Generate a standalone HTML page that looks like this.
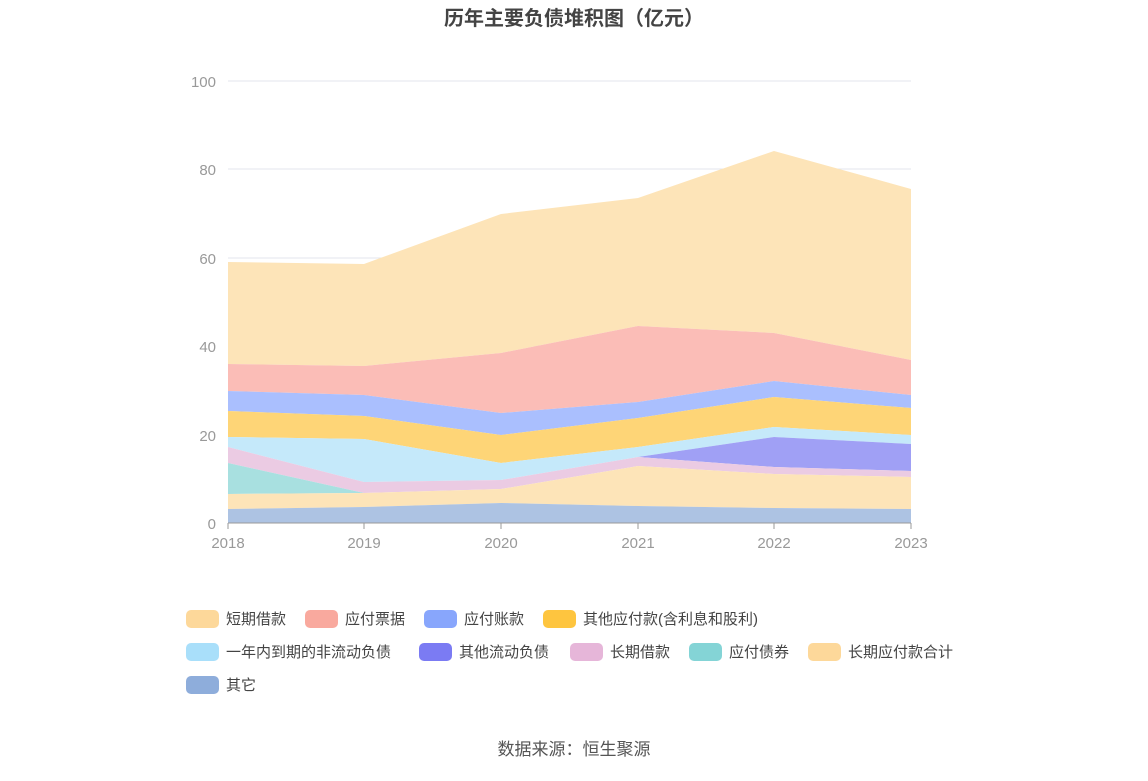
<!DOCTYPE html>
<html><head><meta charset="utf-8"><style>
body{margin:0;background:#fff;width:1148px;height:776px;overflow:hidden;font-family:"Liberation Sans","Noto Sans CJK SC",sans-serif;}
</style></head><body>
<svg width="1148" height="776" xmlns="http://www.w3.org/2000/svg" font-family="Liberation Sans, Noto Sans CJK SC, sans-serif">
<text x="574" y="25" text-anchor="middle" font-size="20" font-weight="bold" fill="#444">历年主要负债堆积图（亿元）</text>
<g stroke="#e3e6ee" stroke-width="1">
<line x1="228" y1="81" x2="911" y2="81"/><line x1="228" y1="169" x2="911" y2="169"/><line x1="228" y1="258" x2="911" y2="258"/><line x1="228" y1="346" x2="911" y2="346"/><line x1="228" y1="435" x2="911" y2="435"/>
</g>
<g font-size="15" fill="#999" text-anchor="end">
<text x="216" y="87">100</text><text x="216" y="175">80</text><text x="216" y="264">60</text><text x="216" y="352">40</text><text x="216" y="441">20</text><text x="216" y="529">0</text>
</g>
<!-- bands -->
<polygon fill="#fde4b8" points="228,262 364,264 501,214 638,198 774,151 911,189 911,360 774,333 638,326 501,353 364,366 228,364"/>
<polygon fill="#fbbdb7" points="228,364 364,366 501,353 638,326 774,333 911,360 911,395 774,381 638,402 501,413 364,395 228,391"/>
<polygon fill="#aabffe" points="228,391 364,395 501,413 638,402 774,381 911,395 911,408 774,397 638,418 501,435 364,416 228,411"/>
<polygon fill="#fed577" points="228,411 364,416 501,435 638,418 774,397 911,408 911,435 774,427 638,447 501,463 364,439 228,437"/>
<polygon fill="#c5e9fa" points="228,437 364,439 501,463 638,447 774,427 911,435 911,444 774,437 638,457 501,480 364,482 228,447"/>
<polygon fill="#a0a0f5" points="228,447 364,482 501,480 638,457 774,437 911,444 911,471 774,467 638,457 501,480 364,482 228,447"/>
<polygon fill="#ebcbe3" points="228,447 364,482 501,480 638,457 774,467 911,471 911,477 774,474 638,466 501,489 364,493 228,463"/>
<polygon fill="#a8e0e0" points="228,463 364,493 501,489 638,466 774,474 911,477 911,477 774,474 638,466 501,489 364,493 228,494"/>
<polygon fill="#fde4b8" points="228,494 364,493 501,489 638,466 774,474 911,477 911,509 774,508 638,506 501,503 364,507 228,509"/>
<polygon fill="#adc3e3" points="228,509 364,507 501,503 638,506 774,508 911,509 911,523 228,523"/>
<line x1="228" y1="523" x2="911" y2="523" stroke="#999"/>
<g stroke="#999"><line x1="228" y1="523" x2="228" y2="529"/><line x1="364" y1="523" x2="364" y2="529"/><line x1="501" y1="523" x2="501" y2="529"/><line x1="638" y1="523" x2="638" y2="529"/><line x1="774" y1="523" x2="774" y2="529"/><line x1="911" y1="523" x2="911" y2="529"/></g>
<g font-size="15" fill="#999" text-anchor="middle">
<text x="228" y="548">2018</text><text x="364" y="548">2019</text><text x="501" y="548">2020</text><text x="638" y="548">2021</text><text x="774" y="548">2022</text><text x="911" y="548">2023</text>
</g>
<g font-size="15" fill="#444">
<rect x="186" y="610" width="33" height="18" rx="5" fill="#fdd89a"/><text x="226" y="624">短期借款</text>
<rect x="305" y="610" width="33" height="18" rx="5" fill="#f9a99e"/><text x="345" y="624">应付票据</text>
<rect x="424" y="610" width="33" height="18" rx="5" fill="#88a6fc"/><text x="464" y="624">应付账款</text>
<rect x="543" y="610" width="33" height="18" rx="5" fill="#fec53f"/><text x="583" y="624">其他应付款(含利息和股利)</text>
<rect x="186" y="643" width="33" height="18" rx="5" fill="#a9dffa"/><text x="226" y="657">一年内到期的非流动负债</text>
<rect x="419" y="643" width="33" height="18" rx="5" fill="#7b7bf3"/><text x="459" y="657">其他流动负债</text>
<rect x="570" y="643" width="33" height="18" rx="5" fill="#e6b6d9"/><text x="610" y="657">长期借款</text>
<rect x="689" y="643" width="33" height="18" rx="5" fill="#84d4d6"/><text x="729" y="657">应付债券</text>
<rect x="808" y="643" width="33" height="18" rx="5" fill="#fdd89a"/><text x="848" y="657">长期应付款合计</text>
<rect x="186" y="676" width="33" height="18" rx="5" fill="#8eaddb"/><text x="226" y="690">其它</text>
</g>
<text x="574" y="755" text-anchor="middle" font-size="17" fill="#555">数据来源：恒生聚源</text>
</svg>
</body></html>
